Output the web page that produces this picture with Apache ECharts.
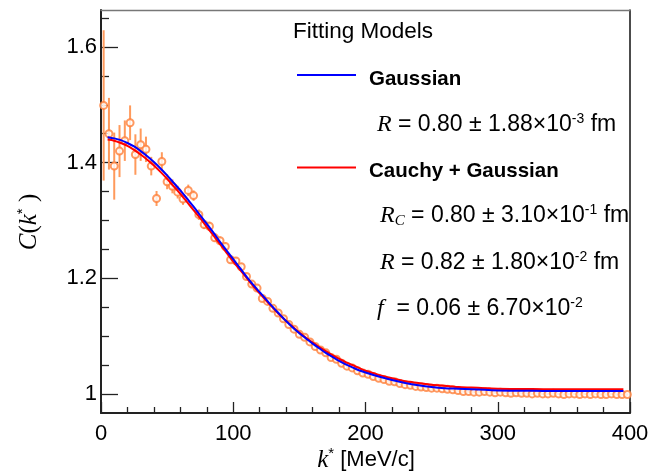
<!DOCTYPE html>
<html>
<head>
<meta charset="utf-8">
<script src="https://cdn.jsdelivr.net/npm/echarts@6.0.0/dist/echarts.min.js"></script>
<style>
html,body{margin:0;padding:0;background:#fff;}
#chart{width:655px;height:472px;}
</style>
</head>
<body>
<div id="chart"></div>
<script>
// ---- data ----
const kBins = [2,6,10,14,18,22,26,30,34,38,42,46,50,54,58,62,66,70,74,78,82,86,90,94,98,
  102,106,110,114,118,122,126,130,134,138,142,146,150,154,158,162,166,170,174,178,182,186,190,194,198,
  202,206,210,214,218,222,226,230,234,238,242,246,250,254,258,262,266,270,274,278,282,286,290,294,298,
  302,306,310,314,318,322,326,330,334,338,342,346,350,354,358,362,366,370,374,378,382,386,390,394,398];
const cData = [1.499,1.450,1.394,1.420,1.438,1.469,1.414,1.431,1.423,1.394,1.338,1.402,1.367,1.359,1.349,1.337,1.352,1.343,1.310,1.293,1.290,1.270,1.265,1.255,1.232,
  1.230,1.220,1.203,1.190,1.183,1.165,1.160,1.148,1.140,1.130,1.120,1.112,1.103,1.098,1.090,1.082,1.076,1.071,1.063,1.060,1.053,1.048,1.045,1.040,1.036,
  1.034,1.030,1.027,1.025,1.022,1.021,1.018,1.016,1.015,1.013,1.012,1.011,1.010,1.010,1.009,1.008,1.007,1.006,1.004,1.004,1.003,1.003,1.004,1.003,1.002,
  1.003,1.002,1.001,1.002,1.001,1.001,1.000,1.001,1.000,1.000,1.001,1.000,0.999,1.000,1.000,0.999,1.000,0.999,1.000,0.999,0.999,1.000,0.999,0.999,0.999];
const cErr = [0.130,0.062,0.058,0.045,0.035,0.030,0.035,0.028,0.022,0.016,0.013,0.016,0.013,0.012,0.011,0.010,0.010,0.009,0.009,0.008,0.008,0.007,0.007,0.007,0.006,
  0.006,0.006,0.005,0.005,0.005,0.005,0.005,0.004,0.004,0.004,0.004,0.004,0.004,0.004,0.003,0.003,0.003,0.003,0.003,0.003,0.003,0.003,0.003,0.003,0.003,
  0.003,0.003,0.003,0.003,0.003,0.003,0.003,0.003,0.003,0.003,0.003,0.003,0.003,0.002,0.002,0.002,0.002,0.002,0.002,0.002,0.002,0.002,0.002,0.002,0.002,
  0.002,0.002,0.002,0.002,0.002,0.002,0.002,0.002,0.002,0.002,0.002,0.002,0.002,0.002,0.002,0.002,0.002,0.002,0.002,0.002,0.002,0.002,0.002,0.002,0.002];

const fitK = [5,10,15,20,25,30,35,40,45,50,55,60,65,70,75,80,85,90,95,100,105,110,115,120,125,130,135,140,145,150,155,160,165,170,175,180,185,190,195,200,
  210,220,230,240,250,260,270,280,290,300,320,340,360,380,395];
const gaussC = [1.444,1.442,1.439,1.434,1.428,1.420,1.411,1.401,1.390,1.378,1.365,1.352,1.338,1.324,1.309,1.294,1.279,1.263,1.248,1.233,1.218,1.203,1.189,1.176,1.163,1.150,1.138,1.126,1.115,1.105,1.096,1.087,1.079,1.071,1.064,1.057,1.051,1.046,1.041,1.037,
  1.030,1.024,1.019,1.015,1.012,1.010,1.009,1.008,1.007,1.006,1.0055,1.005,1.005,1.005,1.005];
const cauchyGaussC = [1.440,1.438,1.434,1.429,1.422,1.414,1.405,1.395,1.384,1.372,1.359,1.346,1.332,1.318,1.304,1.289,1.274,1.259,1.244,1.229,1.215,1.201,1.187,1.174,1.161,1.149,1.137,1.126,1.116,1.106,1.097,1.089,1.081,1.074,1.067,1.061,1.055,1.050,1.045,1.040,
  1.033,1.027,1.022,1.019,1.016,1.014,1.012,1.011,1.010,1.009,1.0085,1.008,1.008,1.008,1.008];

const yMajorTicks = [1, 1.2, 1.4, 1.6];
const yMinorTicks = [1.05,1.1,1.15,1.25,1.3,1.35,1.45,1.5,1.55,1.65];

const chart = echarts.init(document.getElementById('chart'), null, {renderer: 'canvas'});

const SANS = 'Liberation Sans';
const SERIF = 'Liberation Serif';
const Y_MIN = 0.967, Y_MAX = 1.664;

const legendRich = {
  m: {fontFamily: SERIF, fontStyle: 'italic', fontSize: 24, lineHeight: 26, fill: '#000'},
  sub: {fontFamily: SERIF, fontStyle: 'italic', fontSize: 15, lineHeight: 26, verticalAlign: 'bottom', fill: '#000'},
  t: {fontFamily: SANS, fontSize: 23, lineHeight: 26, fill: '#000'},
  s: {fontFamily: SANS, fontSize: 14, lineHeight: 26, verticalAlign: 'top', fill: '#000'},
  b: {fontFamily: SANS, fontWeight: 'bold', fontSize: 20.5, lineHeight: 26, fill: '#000'}
};
function txt(x, y, text) {
  return {type: 'text', z: 100, style: {x: x, y: y, text: text, rich: legendRich, verticalAlign: 'middle', align: 'left'}};
}

const option = {
  animation: false,
  backgroundColor: '#fff',
  grid: {left: 101, right: 25, top: 10, bottom: 59, containLabel: false, outerBoundsMode: 'none'},
  xAxis: [{
    type: 'value', min: 0, max: 400, interval: 100,
    axisLine: {show: true, lineStyle: {color: '#222', width: 2}},
    axisTick: {show: true, inside: true, length: 11, lineStyle: {color: '#222', width: 1.3}},
    minorTick: {show: true, splitNumber: 5, length: 6, lineStyle: {color: '#222', width: 1.3}},
    axisLabel: {fontFamily: SANS, fontSize: 22, color: '#000', margin: 10},
    splitLine: {show: false}
  }, {
    type: 'value', position: 'top', min: 0, max: 400,
    axisLine: {show: true, lineStyle: {color: '#777', width: 1.3}},
    axisTick: {show: false}, axisLabel: {show: false}, splitLine: {show: false}
  }],
  yAxis: [{
    type: 'value', min: Y_MIN, max: Y_MAX,
    axisLine: {show: true, lineStyle: {color: '#222', width: 2}},
    axisTick: {show: true, inside: true, length: 17, customValues: yMajorTicks, lineStyle: {color: '#222', width: 1.3}},
    axisLabel: {fontFamily: SANS, fontSize: 22, color: '#000', margin: 4, customValues: yMajorTicks,
      formatter: v => (Math.abs(v - 1) < 1e-9 ? '1' : v.toFixed(1))},
    splitLine: {show: false}
  }, {
    type: 'value', position: 'left', min: Y_MIN, max: Y_MAX,
    axisLine: {show: false},
    axisTick: {show: true, inside: true, length: 8, customValues: yMinorTicks, lineStyle: {color: '#222', width: 1.3}},
    axisLabel: {show: false}, splitLine: {show: false}
  }, {
    type: 'value', position: 'right', min: Y_MIN, max: Y_MAX,
    axisLine: {show: true, lineStyle: {color: '#111', width: 1.5}},
    axisTick: {show: false}, axisLabel: {show: false}, splitLine: {show: false}
  }],
  series: [{
    type: 'custom', name: 'errors',
    data: kBins.map((k, i) => [k, cData[i] - cErr[i], cData[i] + cErr[i]]),
    renderItem: function (params, api) {
      const p1 = api.coord([api.value(0), api.value(1)]);
      const p2 = api.coord([api.value(0), api.value(2)]);
      return {type: 'line', shape: {x1: p1[0], y1: p1[1], x2: p2[0], y2: p2[1]},
        style: {stroke: '#ff9a5c', lineWidth: 2}};
    },
    clip: true, z: 2
  }, {
    type: 'scatter', name: 'data',
    data: kBins.map((k, i) => [k, cData[i]]),
    symbol: 'emptyCircle', symbolSize: 7,
    itemStyle: {color: '#ff7f3a', borderWidth: 1.4},
    z: 3
  }, {
    type: 'line', name: 'Cauchy + Gaussian',
    data: fitK.map((k, i) => [k, cauchyGaussC[i]]),
    smooth: 0.3, showSymbol: false,
    lineStyle: {color: '#ff0000', width: 2}, z: 4
  }, {
    type: 'line', name: 'Gaussian',
    data: fitK.map((k, i) => [k, gaussC[i]]),
    smooth: 0.3, showSymbol: false,
    lineStyle: {color: '#0000ff', width: 2}, z: 5
  }],
  graphic: [
    {type: 'text', z: 100, style: {x: 293, y: 32, text: 'Fitting Models', font: '22.5px "Liberation Sans"', fill: '#000', verticalAlign: 'middle', align: 'left'}},
    {type: 'line', z: 100, shape: {x1: 297, y1: 75, x2: 356, y2: 75}, style: {stroke: '#0000ff', lineWidth: 2}},
    txt(369, 79, '{b|Gaussian}'),
    txt(377, 125, '{m|R}{t| = 0.80 ± 1.88×10}{s|-3}{t| fm}'),
    {type: 'line', z: 100, shape: {x1: 297, y1: 167.5, x2: 356, y2: 167.5}, style: {stroke: '#ff0000', lineWidth: 2}},
    txt(369, 171, '{b|Cauchy + Gaussian}'),
    txt(380, 216, '{m|R}{sub|C}{t| = 0.80 ± 3.10×10}{s|-1}{t| fm}'),
    txt(380, 263, '{m|R}{t| = 0.82 ± 1.80×10}{s|-2}{t| fm}'),
    txt(377, 309, '{m|f}{t|  = 0.06 ± 6.70×10}{s|-2}'),
    // axis titles
    {type: 'text', z: 100, rotation: Math.PI / 2, x: 29, y: 222,
      style: {x: 0, y: 0, align: 'center', verticalAlign: 'middle',
        text: '{c|C}{p|(}{c|k}{s|*}{p| )}',
        rich: {
          c: {fontFamily: SERIF, fontStyle: 'italic', fontSize: 25, lineHeight: 28, fill: '#000'},
          p: {fontFamily: SERIF, fontSize: 25, lineHeight: 28, fill: '#000'},
          s: {fontFamily: SANS, fontSize: 15, lineHeight: 28, verticalAlign: 'top', fill: '#000'}
        }}},
    {type: 'text', z: 100, x: 366, y: 460,
      style: {x: 0, y: 0, align: 'center', verticalAlign: 'middle',
        text: '{c|k}{s|*}{t| [MeV/c]}',
        rich: {
          c: {fontFamily: SERIF, fontStyle: 'italic', fontSize: 25, lineHeight: 28, fill: '#000'},
          t: {fontFamily: SANS, fontSize: 22, lineHeight: 28, fill: '#000'},
          s: {fontFamily: SANS, fontSize: 15, lineHeight: 28, verticalAlign: 'top', fill: '#000'}
        }}}
  ]
};
chart.setOption(option);
</script>
</body>
</html>
